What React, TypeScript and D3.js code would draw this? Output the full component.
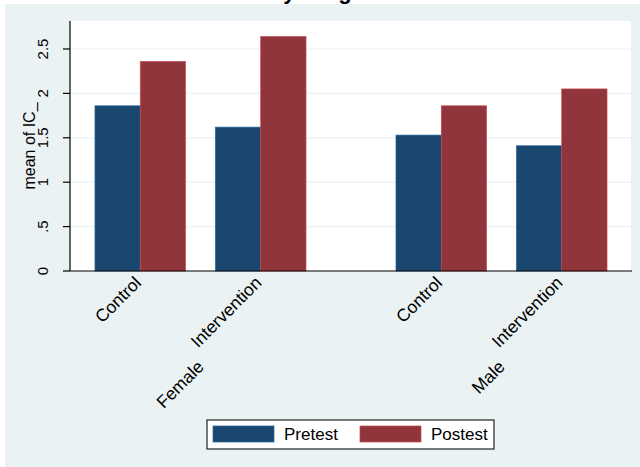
import * as d3 from 'd3';

// ── data ────────────────────────────────────────────────────────────────
const sexes = ['Female', 'Male'];
const groups = ['Control', 'Intervention'];
const series = ['Pretest', 'Postest'];
// order: Female Control, Female Intervention, Male Control, Male Intervention
const pretest = [1.86, 1.62, 1.53, 1.41];
const postest = [2.36, 2.64, 1.86, 2.05];
const yTicks = [0, 0.5, 1, 1.5, 2, 2.5];
const yTickLabels = ['0', '.5', '1', '1.5', '2', '2.5'];
const yTitle = 'mean of IC_';
const title = 'Mean of IC by Program';

const W = 640;
const H = 467;
const FONT = "'Liberation Sans', Arial, Helvetica, sans-serif";
const BG = '#eaf2f3';
const COLORS = ['#1a476f', '#90353b'];

const plot = { left: 70, right: 632, top: 21, bottom: 271 };

export default function App() {
  const outer = d3
    .scaleBand<string>()
    .domain(sexes)
    .range([plot.left, plot.right])
    .paddingInner(0.299)
    .paddingOuter(0.083);
  const inner = d3
    .scaleBand<string>()
    .domain(groups)
    .range([0, outer.bandwidth()])
    .paddingInner(0.248)
    .paddingOuter(0);
  const bar = d3
    .scaleBand<string>()
    .domain(series)
    .range([0, inner.bandwidth()]);
  const y = d3.scaleLinear().domain([0, 2.815]).range([plot.bottom, plot.top]);
  const values = [pretest, postest];

  const bars: { x: number; y: number; w: number; h: number; fill: string }[] = [];
  sexes.forEach((s, si) => {
    groups.forEach((g, gi) => {
      const idx = si * groups.length + gi;
      series.forEach((se, k) => {
        const v = values[k][idx];
        bars.push({
          x: (outer(s) ?? 0) + (inner(g) ?? 0) + (bar(se) ?? 0),
          y: y(v),
          w: bar.bandwidth(),
          h: y(0) - y(v),
          fill: COLORS[k],
        });
      });
    });
  });

  return (
    <div style={{ position: 'absolute', left: 0, top: 0 }}>
      <svg width={W} height={H} style={{ display: 'block', fontFamily: FONT }}>
        <rect x={0} y={0} width={W} height={H} fill='#fff' />
        <rect x={5} y={4} width={W - 5} height={H - 4} fill={BG} />

        {/* title, cut off by the top edge */}
        <text x={392} y={-1.5} textAnchor='end' fontSize={22} fontWeight='bold' fill='#000'>
          {title}
        </text>

        {/* plot region */}
        <rect
          x={plot.left}
          y={plot.top}
          width={plot.right - plot.left - 1}
          height={plot.bottom - plot.top}
          fill='#fff'
        />
        {yTicks.slice(1).map((t) => (
          <line
            key={t}
            x1={plot.left}
            x2={plot.right - 1}
            y1={y(t)}
            y2={y(t)}
            stroke={BG}
            strokeWidth={1.2}
          />
        ))}

        {bars.map((b, i) => (
          <rect
            key={i}
            x={b.x}
            y={b.y}
            width={b.w}
            height={b.h}
            fill={b.fill}
            stroke={d3.color(b.fill)!.brighter(0.9).formatHex()}
            strokeWidth={0.7}
          />
        ))}

        {/* y axis */}
        <line x1={plot.left} x2={plot.left} y1={plot.top} y2={plot.bottom} stroke='#000' strokeWidth={1.2} />
        {yTicks.map((t, i) => (
          <g key={t} transform={`translate(0,${y(t)})`}>
            <line x1={plot.left - 7} x2={plot.left} stroke='#000' strokeWidth={1.2} />
            <text
              transform={`translate(${plot.left - 22},0) rotate(-90)`}
              textAnchor='middle'
              fontSize={15}
              fill='#000'
            >
              {yTickLabels[i]}
            </text>
          </g>
        ))}
        <text
          transform={`translate(35,${(plot.top + plot.bottom) / 2}) rotate(-90)`}
          textAnchor='middle'
          fontSize={16}
          fill='#000'
        >
          {yTitle}
        </text>

        {/* x axis */}
        <line x1={plot.left} x2={plot.right} y1={plot.bottom} y2={plot.bottom} stroke='#000' strokeWidth={1.2} />
        {sexes.map((s) =>
          groups.map((g) => {
            const cx = (outer(s) ?? 0) + (inner(g) ?? 0) + inner.bandwidth() / 2;
            return (
              <text
                key={s + g}
                transform={`translate(${cx - 7},${plot.bottom + 4}) rotate(-45)`}
                textAnchor='end'
                dy='0.72em'
                fontSize={17.5}
                fill='#000'
              >
                {g}
              </text>
            );
          }),
        )}
        {sexes.map((s) => {
          const cx = (outer(s) ?? 0) + outer.bandwidth() / 2;
          return (
            <text
              key={s}
              transform={`translate(${cx - 4.5},${plot.bottom + 88}) rotate(-45)`}
              textAnchor='end'
              dy='0.72em'
              fontSize={17.5}
              fill='#000'
            >
              {s}
            </text>
          );
        })}

        {/* legend */}
        <rect x={207} y={420} width={287} height={29} fill='#fff' stroke='#222' strokeWidth={1.2} />
        {series.map((se, k) => {
          const lx = 213 + k * 147;
          return (
            <g key={se}>
              <rect
                x={lx}
                y={426}
                width={61}
                height={16}
                fill={COLORS[k]}
                stroke={d3.color(COLORS[k])!.brighter(0.9).formatHex()}
                strokeWidth={0.7}
              />
              <text x={lx + 71} y={440} fontSize={17} fill='#000'>
                {se}
              </text>
            </g>
          );
        })}
      </svg>
    </div>
  );
}
